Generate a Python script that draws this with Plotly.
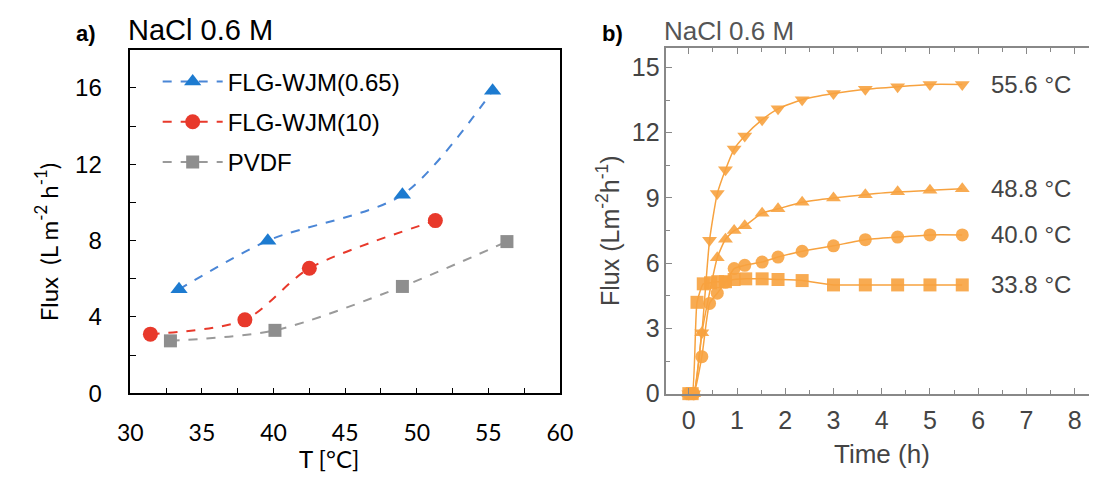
import plotly.graph_objects as go

# ---------------- Panel a data ----------------
t_wjm065 = [33.4, 39.6, 49.0, 55.3]
f_wjm065 = [5.45, 8.0, 10.4, 15.85]
t_wjm10 = [31.4, 38.0, 42.5, 51.3]
f_wjm10 = [3.1, 3.85, 6.55, 9.05]
t_pvdf = [32.8, 40.1, 49.0, 56.3]
f_pvdf = [2.75, 3.3, 5.6, 7.95]
names_a = ["FLG-WJM(0.65)", "FLG-WJM(10)", "PVDF"]

# ---------------- Panel b data ----------------
time_556 = [0, 0.1, 0.27, 0.43, 0.59, 0.76, 0.94, 1.16, 1.52, 1.85, 2.35, 3.0, 3.66, 4.33, 5.0, 5.67]
flux_556 = [0, 0, 2.8, 7.05, 9.2, 10.3, 11.25, 11.85, 12.6, 13.1, 13.52, 13.8, 14.0, 14.12, 14.22, 14.22]
time_488 = [0, 0.1, 0.27, 0.59, 0.76, 0.94, 1.16, 1.52, 1.85, 2.35, 3.0, 3.66, 4.33, 5.0, 5.67]
flux_488 = [0, 0, 2.8, 6.25, 7.1, 7.5, 7.72, 8.3, 8.5, 8.8, 9.0, 9.15, 9.28, 9.35, 9.42]
time_400 = [0, 0.1, 0.27, 0.43, 0.59, 0.76, 0.94, 1.16, 1.52, 1.85, 2.35, 3.0, 3.66, 4.33, 5.0, 5.67]
flux_400 = [0, 0, 1.7, 4.15, 4.62, 5.12, 5.75, 5.9, 6.05, 6.28, 6.55, 6.8, 7.08, 7.2, 7.3, 7.3]
time_338 = [0, 0.07, 0.17, 0.3, 0.45, 0.6, 0.76, 0.94, 1.18, 1.52, 1.85, 2.35, 3.0, 3.66, 4.33, 5.0, 5.67]
flux_338 = [0, 0, 4.2, 5.05, 5.1, 5.15, 5.15, 5.25, 5.28, 5.28, 5.25, 5.2, 5.0, 5.0, 5.0, 5.0, 5.0]
labels_b = ["55.6 °C", "48.8 °C", "40.0 °C", "33.8 °C"]

W, H = 1097, 477

def px_x(p):
    return p / W

def px_y(p):
    return 1 - p / H

fig = go.Figure()

# Panel a traces
style_a = [
    (t_wjm065, f_wjm065, "#4a86d6", "#1d7bd0", "triangle-up", 15),
    (t_wjm10, f_wjm10, "#e8392b", "#e8392b", "circle", 15),
    (t_pvdf, f_pvdf, "#9a9a9a", "#8e8e8e", "square", 13),
]
for i, (xs, ys, lc, mc, sym, ms) in enumerate(style_a):
    fig.add_trace(go.Scatter(
        x=xs, y=ys, name=names_a[i], mode="lines+markers",
        line=dict(color=lc, width=2, dash="dash", shape="spline", smoothing=0.8),
        marker=dict(color=mc, symbol=sym, size=ms),
        xaxis="x", yaxis="y", legendgroup=f"g{i}", cliponaxis=False,
    ))

# Panel b traces
orange = "#f7a23f"
series_b = [
    (time_556, flux_556, "triangle-down"),
    (time_488, flux_488, "triangle-up"),
    (time_400, flux_400, "circle"),
    (time_338, flux_338, "square"),
]
for i, (xs, ys, sym) in enumerate(series_b):
    fig.add_trace(go.Scatter(
        x=xs, y=ys, name=labels_b[i], mode="lines+markers", showlegend=False,
        line=dict(color=orange, width=1.5, shape="spline", smoothing=0.5),
        marker=dict(color=orange, symbol=sym, size=13, opacity=0.9),
        xaxis="x2", yaxis="y2", cliponaxis=False,
    ))

annotations = []
# right-hand labels for panel b
for i, (xs, ys, sym) in enumerate(series_b):
    annotations.append(dict(
        x=6.23, y=ys[-1], xref="x2", yref="y2", text=labels_b[i], showarrow=False,
        xanchor="left", yanchor="middle",
        font=dict(family="Liberation Sans, Arial", size=24, color="#444444"),
    ))

# Panel titles / labels
annotations += [
    dict(x=px_x(67), y=px_y(26), xref="paper", yref="paper", text="<b>a)</b>", showarrow=False,
         xanchor="center", yanchor="middle", font=dict(family="Liberation Sans, Arial", size=22, color="black")),
    dict(x=px_x(108), y=px_y(23), xref="paper", yref="paper", text="NaCl 0.6 M", showarrow=False,
         xanchor="left", yanchor="middle", font=dict(family="Liberation Sans, Arial", size=29, color="black")),
    dict(x=px_x(606), y=px_y(26), xref="paper", yref="paper", text="<b>b)</b>", showarrow=False,
         xanchor="center", yanchor="middle", font=dict(family="Liberation Sans, Arial", size=22, color="black")),
    dict(x=px_x(657), y=px_y(24), xref="paper", yref="paper", text="NaCl 0.6 M", showarrow=False,
         xanchor="left", yanchor="middle", font=dict(family="Liberation Sans, Arial", size=26, color="#555555")),
    dict(x=px_x(26), y=px_y(241), xref="paper", yref="paper",
         text="Flux  (L m<sup>-2</sup> h<sup>-1</sup>)", showarrow=False, textangle=-90,
         xanchor="center", yanchor="middle", font=dict(family="Lato, Open Sans", size=24, color="black")),
    dict(x=px_x(315), y=px_y(464), xref="paper", yref="paper", text="T [°C]", showarrow=False,
         xanchor="center", yanchor="middle", font=dict(family="Lato, Open Sans", size=24, color="black")),
    dict(x=px_x(602), y=px_y(229), xref="paper", yref="paper",
         text="Flux (Lm<sup>-2</sup>h<sup>-1</sup>)", showarrow=False, textangle=-90,
         xanchor="center", yanchor="middle", font=dict(family="Liberation Sans, Arial", size=25, color="#444444")),
    dict(x=px_x(882), y=px_y(460), xref="paper", yref="paper", text="Time (h)", showarrow=False,
         xanchor="center", yanchor="middle", font=dict(family="Liberation Sans, Arial", size=26, color="#444444")),
]

fig.update_layout(
    width=W, height=H,
    margin=dict(l=0, r=0, t=0, b=0),
    paper_bgcolor="white", plot_bgcolor="white",
    showlegend=True,
    legend=dict(x=px_x(140), y=px_y(53), xanchor="left", yanchor="top",
                font=dict(family="Liberation Sans, Arial", size=24, color="black"),
                itemwidth=60, tracegroupgap=6, bgcolor="rgba(0,0,0,0)"),
    annotations=annotations,
    xaxis=dict(domain=[px_x(112), px_x(552)], range=[30, 60], anchor="y",
               showline=True, linecolor="black", linewidth=1.5, mirror=True,
               ticks="inside", ticklen=6, tickcolor="black", dtick=5, tick0=30,
               minor=dict(dtick=2.5, ticks="inside", ticklen=6, tickcolor="black"),
               showgrid=False, zeroline=False, ticklabelstandoff=18,
               tickfont=dict(family="Lato, Open Sans", size=23, color="black")),
    yaxis=dict(domain=[px_y(397), px_y(43)], range=[0, 18], anchor="x",
               showline=True, linecolor="black", linewidth=1.5, mirror=True,
               ticks="inside", ticklen=6, tickcolor="black", dtick=4, tick0=0,
               minor=dict(dtick=2, ticks="inside", ticklen=6, tickcolor="black"),
               showgrid=False, zeroline=False, ticklabelstandoff=22,
               tickfont=dict(family="Liberation Sans, Arial", size=24, color="black")),
    xaxis2=dict(domain=[px_x(661), 1.0], range=[-0.466, 8.36], anchor="y2",
                showline=True, linecolor="#888888", linewidth=1.5, mirror="ticks",
                ticks="inside", ticklen=6, tickcolor="#888888", dtick=1, tick0=0,
                minor=dict(dtick=0.5, ticks="inside", ticklen=4, tickcolor="#888888"),
                showgrid=False, zeroline=False, ticklabelstandoff=4,
                tickfont=dict(family="Liberation Sans, Arial", size=25, color="#444444")),
    yaxis2=dict(domain=[px_y(397.3), px_y(41.7)], range=[0, 15.875], anchor="x2",
                showline=True, linecolor="#888888", linewidth=1.5, mirror=False,
                ticks="inside", ticklen=6, tickcolor="#888888", dtick=3, tick0=0,
                minor=dict(dtick=1.5, ticks="inside", ticklen=4, tickcolor="#888888"),
                showgrid=False, zeroline=False,
                tickfont=dict(family="Liberation Sans, Arial", size=25, color="#444444")),
)

fig.write_html("out.html")
